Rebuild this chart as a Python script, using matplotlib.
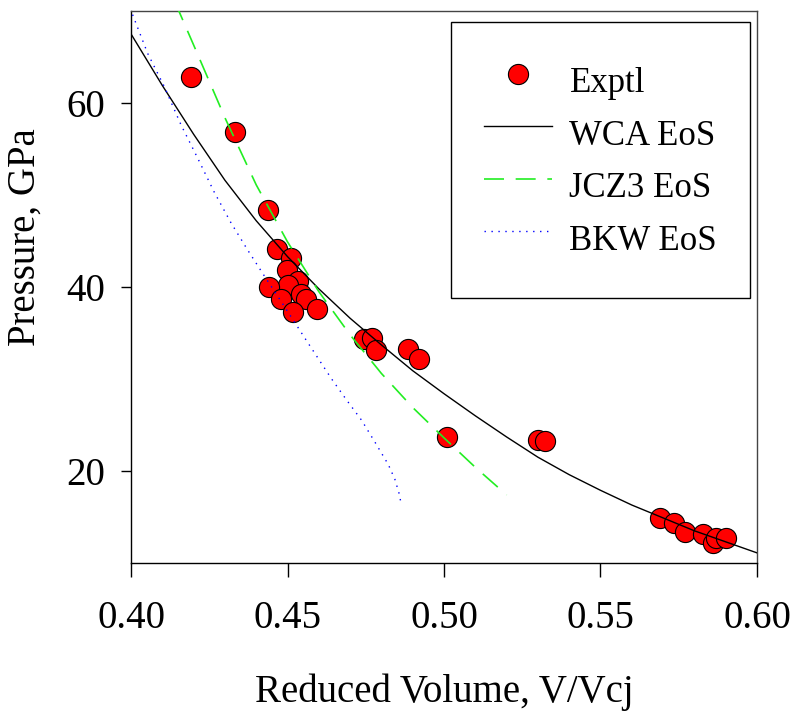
import matplotlib.pyplot as plt

plt.rcParams['font.family'] = ['Liberation Serif', 'DejaVu Serif']

# experimental points
exp_v = [0.4192, 0.4331, 0.4438, 0.4467, 0.4511, 0.4497, 0.4533, 0.4503, 0.4442, 0.4543,
         0.4479, 0.4558, 0.4517, 0.4595, 0.4745, 0.4769, 0.4784, 0.4884, 0.4920, 0.5009,
         0.5299, 0.5323, 0.5691, 0.5734, 0.5771, 0.5828, 0.5860, 0.5868, 0.5900]
exp_p = [62.8, 56.8, 48.4, 44.1, 43.1, 41.9, 40.6, 40.2, 40.0, 39.2,
         38.7, 38.7, 37.3, 37.6, 34.3, 34.5, 33.1, 33.3, 32.2, 23.7,
         23.4, 23.3, 14.9, 14.4, 13.4, 13.1, 12.2, 12.7, 12.7]

# WCA EoS
wca_v = [0.400, 0.410, 0.420, 0.430, 0.440, 0.450, 0.460, 0.470, 0.480, 0.490, 0.500,
         0.510, 0.520, 0.530, 0.540, 0.550, 0.560, 0.570, 0.580, 0.590, 0.600]
wca_p = [67.5, 61.9, 56.6, 51.6, 47.2, 43.3, 39.8, 36.6, 33.7, 30.9, 28.4,
         26.0, 23.7, 21.5, 19.6, 17.9, 16.3, 14.9, 13.5, 12.3, 11.1]

# JCZ3 EoS
jcz_v = [0.414, 0.420, 0.430, 0.440, 0.450, 0.460, 0.470, 0.480, 0.490, 0.500, 0.510, 0.520]
jcz_p = [71.0, 66.3, 58.4, 51.1, 44.9, 39.5, 34.8, 30.6, 26.9, 23.6, 20.4, 17.4]

# BKW EoS
bkw_v = [0.4005, 0.4053, 0.4106, 0.4160, 0.4213, 0.4266, 0.4319, 0.4373, 0.4426, 0.4484,
         0.4560, 0.4641, 0.4689, 0.4737, 0.4780, 0.4822, 0.4843, 0.4857, 0.4862]
bkw_p = [69.6, 65.4, 61.8, 57.6, 54.0, 50.3, 47.0, 44.0, 41.2, 38.2,
         34.2, 30.0, 27.7, 25.5, 23.1, 20.7, 19.1, 17.5, 16.6]

fig = plt.figure(figsize=(7.98, 7.27), dpi=100)
ax = fig.add_axes([0.1642, 0.2256, 0.7844, 0.7593])

ax.plot(exp_v, exp_p, 'o', color='red', mec='black', mew=0.8, ms=14.5, label='Exptl', zorder=2)
ax.plot(wca_v, wca_p, '-', color='black', lw=1.0, label='WCA EoS', zorder=3)
ax.plot(jcz_v, jcz_p, '--', color='#22ee22', lw=1.2, dashes=(12, 7), label='JCZ3 EoS', zorder=3)
ax.plot(bkw_v, bkw_p, ':', color='blue', lw=1.0, dashes=(1, 4), label='BKW EoS', zorder=3)

ax.set_xlim(0.40, 0.60)
ax.set_ylim(10, 70)
ax.set_xticks([0.40, 0.45, 0.50, 0.55, 0.60])
ax.set_xticklabels(['0.40', '0.45', '0.50', '0.55', '0.60'])
ax.set_yticks([20, 40, 60])

ax.tick_params(axis='x', direction='out', length=10, width=1, pad=17, labelsize=28)
ax.tick_params(axis='y', direction='out', length=7, width=1, pad=12, labelsize=28)
for s in ['left', 'bottom']:
    ax.spines[s].set_linewidth(1.0)
for s in ['top', 'right']:
    ax.spines[s].set_linewidth(1.0)
    ax.spines[s].set_color('#444444')

ax.set_xlabel('Reduced Volume, V/Vcj', fontsize=28)
ax.set_ylabel('Pressure, GPa', fontsize=28)
ax.xaxis.set_label_coords(0.5, -0.2)
ax.yaxis.set_label_coords(-0.14, 0.59)

leg = ax.legend(loc='upper right', bbox_to_anchor=(0.989, 0.980), borderaxespad=0,
                fontsize=25, numpoints=1, fancybox=False, framealpha=1,
                borderpad=0.95, handlelength=1.95, handleheight=1.95,
                handletextpad=0.5, labelspacing=0.0)
leg.get_frame().set_edgecolor('black')
leg.get_frame().set_linewidth(1.0)

fig.savefig('out.png', dpi=100)
